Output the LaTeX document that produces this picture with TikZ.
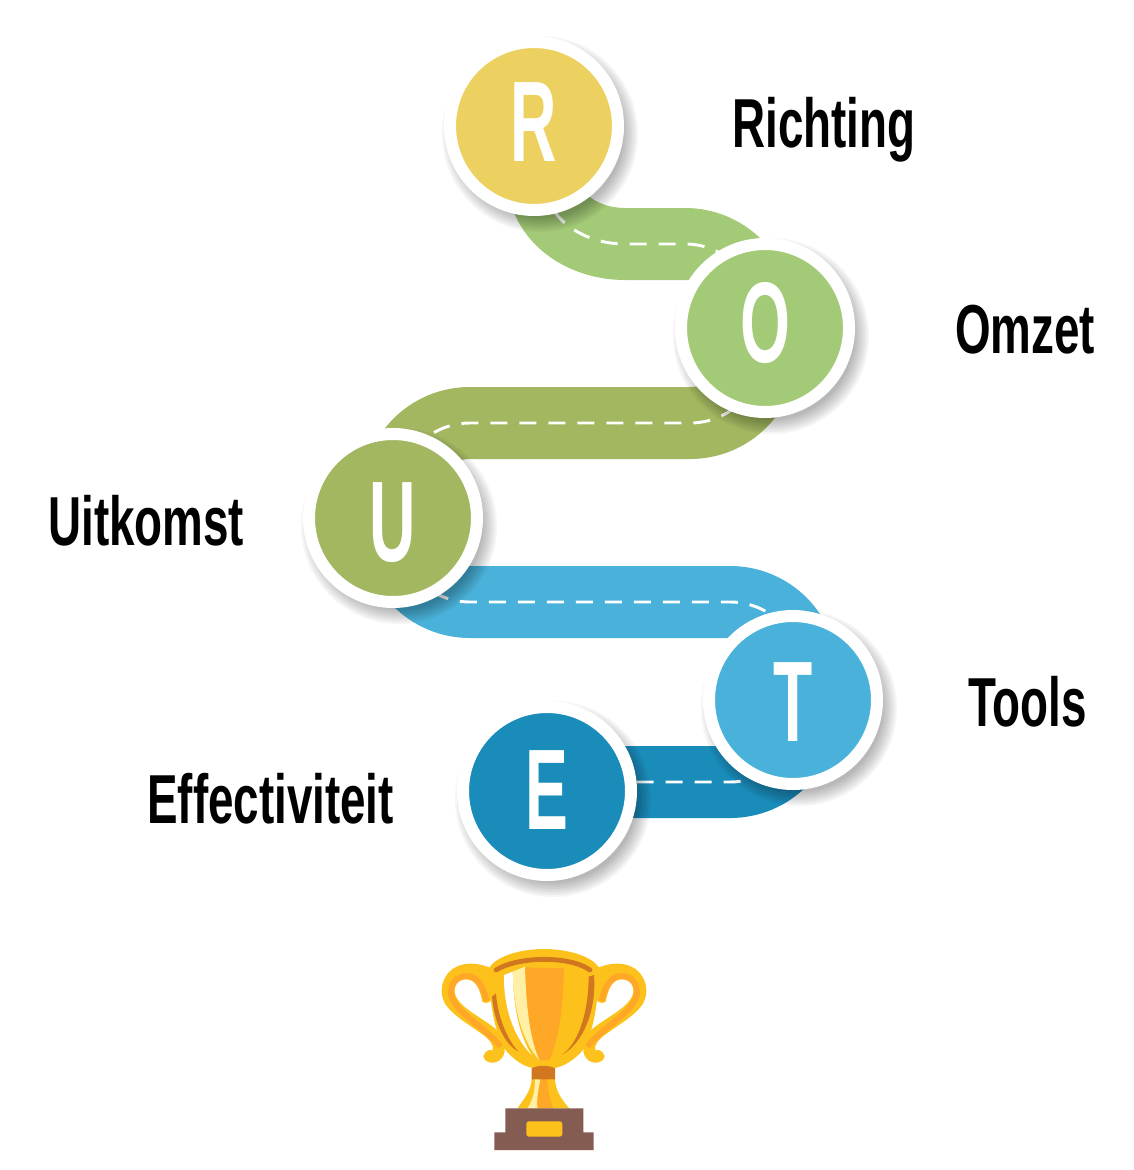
\documentclass[tikz,border=0pt]{standalone}
\usepackage{fontspec}
\setmainfont[FakeStretch=0.66]{Liberation Sans Bold}
\newfontfamily\letterfont[FakeStretch=0.56]{Liberation Sans Bold}
\usetikzlibrary{backgrounds}
\definecolor{routeR}{HTML}{EDD160}
\definecolor{routeO}{HTML}{A3CA77}
\definecolor{routeU}{HTML}{A2B760}
\definecolor{routeT}{HTML}{4AB2DA}
\definecolor{routeE}{HTML}{198CBA}
\definecolor{cupgold}{HTML}{FCC21B}
\definecolor{cuporange}{HTML}{FFA726}
\definecolor{cupdark}{HTML}{D0771F}
\definecolor{cuppale}{HTML}{FFF0A5}
\definecolor{cupbase}{HTML}{855C52}
\tikzset{
      stop/.style = { circle, draw=white, line width=9pt, minimum size=126pt, inner sep=0pt },
  stoptext/.style = { text=white, font=\letterfont\fontsize{86}{86}\selectfont, inner sep=0pt },
 routetext/.style = { text=black, font=\fontsize{52}{60}\selectfont, inner sep=0pt, anchor=base west },
      road/.style = { line width=54pt, color=#1,
                      postaction={draw=white, line width=2.2pt, dash pattern=on 12.75pt off 9pt} },
}
\begin{document}
\begin{tikzpicture}[x=0.75pt,y=-0.75pt]
  \useasboundingbox (0,0) rectangle (1133,1170);
  \foreach \n/\x/\y/\c/\ly in {R/534/126/routeR/122,O/765/328/routeO/323,U/393/518/routeU/523,T/793/700/routeT/702,E/547/791/routeE/790} {
    \foreach \r in {84,86,...,98} {
      \fill [black, opacity=0.04] (\x+6,\y+8) circle [radius=\r*0.75pt];
    }
    \node [stop, fill=\c] (\n) at (\x,\y) {};
    \node [stoptext] (\n-text) at (\x,\ly) {\n};
  }
  \begin{pgfonlayer}{background}
    \draw [road=routeO] (R.center) -- (543,176) .. controls (543,218) and (583,244) .. (625,244)
      -- (685,244) .. controls (725,244) and (757,276) .. (757,316) -- (O.center);
    \draw [road=routeU] (O.center) -- (762,351) .. controls (762,391) and (730,423) .. (690,423)
      -- (470,423) .. controls (430,423) and (398,455) .. (398,495) -- (U.center);
    \draw [road=routeT] (U.center) -- (398,530) .. controls (398,570) and (430,602) .. (470,602)
      -- (730,602) .. controls (770,602) and (802,634) .. (802,674) -- (T.center);
    \draw [road=routeE] (T.center) -- (802,710) .. controls (802,750) and (770,782) .. (730,782)
      -- (547,782) -- (E.center);
  \end{pgfonlayer}
  \node [routetext] (richting) at (732,147) {Richting};
  \node [routetext] (omzet) at (955,353) {Omzet};
  \node [routetext] (uitkomst) at (48,545) {Uitkomst};
  \node [routetext] (tools) at (968,726) {Tools};
  \node [routetext] (effectiviteit) at (147,823) {Effectiviteit};
  \begin{scope}[shift={(420,930)},scale=1/3]
    \foreach \s in {1,-1} {
      \begin{scope}[shift={(372,0)},xscale=\s,shift={(-372,0)}]
        \fill [cupgold] (215,115) .. controls (180,100) and (140,95) .. (110,110)
          .. controls (75,125) and (55,170) .. (70,210) .. controls (85,250) and (150,285) .. (190,315)
          .. controls (210,330) and (222,345) .. (218,362) .. controls (212,355) and (195,362) .. (190,378)
          .. controls (192,398) and (225,408) .. (245,385) .. controls (265,360) and (250,320) .. (225,295)
          .. controls (180,260) and (125,235) .. (108,200) .. controls (95,170) and (115,145) .. (140,148)
          .. controls (170,150) and (180,180) .. (187,215) .. controls (200,225) and (215,215) .. (220,200) -- cycle;
        \draw [cuporange, line width=4.5pt] (242,350) .. controls (200,295) and (110,250) .. (95,200)
          .. controls (85,160) and (115,135) .. (145,138) .. controls (175,142) and (190,175) .. (200,212);
      \end{scope}
    }
    \fill [cupgold] (205,120) .. controls (220,80) and (300,57) .. (372,57) .. controls (445,57) and (525,80) .. (540,120)
      .. controls (530,260) and (510,340) .. (480,370) .. controls (450,400) and (420,412) .. (400,415)
      -- (345,415) .. controls (320,412) and (295,400) .. (265,370) .. controls (235,340) and (212,260) .. (205,120) -- cycle;
    \draw [cupdark, line width=3.6pt, line cap=round] (228,120) .. controls (270,95) and (330,88) .. (372,88)
      .. controls (415,88) and (475,95) .. (510,120);
    \fill [cupdark] (216,200) .. controls (222,270) and (250,340) .. (295,365) .. controls (255,320) and (232,250) .. (228,190) -- cycle;
    \fill [cupdark] (522,135) .. controls (530,240) and (490,340) .. (425,375) .. controls (470,345) and (505,260) .. (506,140) -- cycle;
    \fill [cuporange] (315,112) -- (432,115) .. controls (430,220) and (420,320) .. (388,390)
      -- (360,392) .. controls (330,340) and (315,220) .. (315,112) -- cycle;
    \fill [cuppale] (278,125) -- (315,110) .. controls (318,230) and (330,330) .. (358,390)
      .. controls (310,340) and (280,240) .. (278,125) -- cycle;
    \fill [white] (252,135) -- (278,125) .. controls (280,240) and (300,320) .. (335,375)
      .. controls (280,320) and (250,230) .. (252,135) -- cycle;
    \fill [cupgold] (335,445) .. controls (335,480) and (310,510) .. (292,535) -- (448,535)
      .. controls (425,510) and (405,480) .. (405,445) -- cycle;
    \fill [cuporange] (362,445) -- (382,445) .. controls (382,480) and (392,515) .. (400,535) -- (352,535)
      .. controls (350,505) and (355,475) .. (362,445) -- cycle;
    \fill [cuppale] (345,445) -- (362,445) .. controls (355,475) and (350,505) .. (352,535) -- (322,535)
      .. controls (340,510) and (345,480) .. (345,445) -- cycle;
    \fill [cupdark] (335,415) .. controls (355,405) and (385,405) .. (405,415) -- (405,448) -- (335,448) -- cycle;
    \fill [cupbase] (256,535) -- (490,535) -- (490,607) -- (521,607) -- (521,660) -- (223,660) -- (223,607) -- (256,607) -- cycle;
    \fill [cupgold, rounded corners=2pt] (319,574) rectangle (427,620);
  \end{scope}
\end{tikzpicture}
\end{document}
